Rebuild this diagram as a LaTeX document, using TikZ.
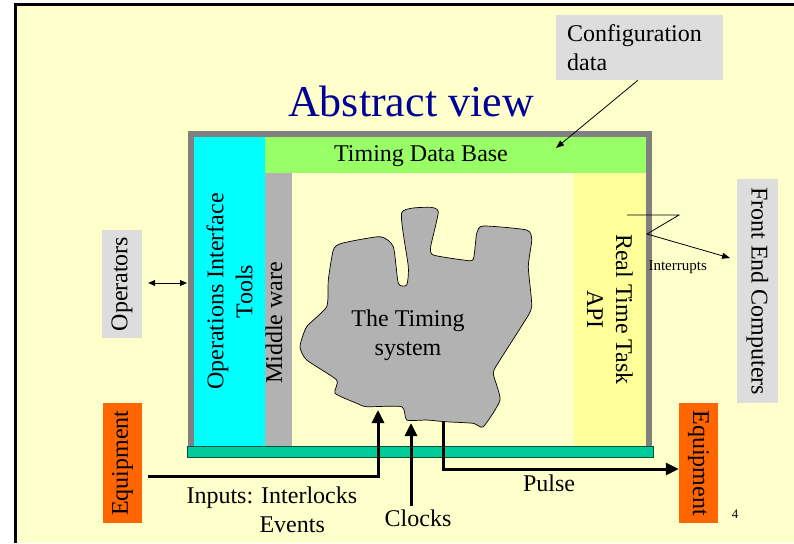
\documentclass[tikz,border=0pt]{standalone}
\usepackage{fontspec}
\setmainfont{Liberation Serif}
\usepackage{xcolor}
\usepackage{tikz}
\usetikzlibrary{arrows.meta,calc}

\definecolor{pagebg}{HTML}{FFFFCC}
\definecolor{boxgray}{HTML}{DDDDDD}
\definecolor{titleblue}{HTML}{000099}
\definecolor{framegray}{HTML}{808080}
\definecolor{opscyan}{HTML}{00FFFF}
\definecolor{tdbgreen}{HTML}{99FF66}
\definecolor{mwgray}{HTML}{B2B2B2}
\definecolor{rtyellow}{HTML}{FFFF99}
\definecolor{busgreen}{HTML}{00CC99}
\definecolor{busedge}{HTML}{005040}
\definecolor{equiporange}{HTML}{FF6600}

\begin{document}
\begin{tikzpicture}[x=1pt,y=-1pt,
    txt/.style={font=\fontsize{24}{29}\selectfont},
    graybox/.style={fill=boxgray, inner sep=0pt, txt},
    orangebox/.style={fill=equiporange, inner sep=0pt, txt, minimum width=120pt, minimum height=39pt},
    thickarrow/.style={line width=3pt, -{Triangle[length=13pt,width=12pt]}},
    thinarrow/.style={line width=0.8pt, -{Triangle[length=8pt,width=6pt]}}]

    \useasboundingbox (0,0) rectangle (794,543);
    \fill[pagebg] (15,5) rectangle (794,543);
    \draw[line width=3pt] (15,543) -- (15,5) -- (794,5);

    % title and configuration data
    \node[font=\fontsize{44}{50}\selectfont, text=titleblue] (title) at (411,101) {Abstract view};
    \node[graybox, text width=145pt, inner xsep=11pt, minimum height=65pt, align=left, anchor=north west] (config) at (556,15) {Configuration\\data};

    % frame of the timing system
    \fill[framegray] (188,131) rectangle (652,446);
    \fill[pagebg] (194,137) rectangle (646,446);
    \node[fill=opscyan, minimum width=309pt, minimum height=71pt, inner sep=0pt, rotate=90, txt, align=center] (ops) at (229.5,291.5) {Operations Interface\\Tools};
    \node[fill=tdbgreen, minimum width=381pt, minimum height=36pt, inner sep=0pt] (tdb) at (455.5,155) {};
    \node[txt] (tdbtext) at (421,156) {Timing Data Base};
    \node[fill=mwgray, minimum width=273pt, minimum height=27pt, inner sep=0pt, rotate=90] (mw) at (278.5,309.5) {};
    \node[txt, rotate=90] (mwtext) at (274,323) {Middle ware};
    \node[fill=rtyellow, minimum width=273pt, minimum height=72pt, inner sep=0pt, rotate=-90, txt, align=center] (rt) at (610,309.5) {Real Time Task\\API};
    \node[fill=busgreen, draw=busedge, line width=1pt, minimum width=466pt, minimum height=11pt, inner sep=0pt] (bus) at (420,451.5) {};

    % the timing system itself
    \draw[fill=mwgray, line width=0.7pt] plot[smooth cycle, tension=0.35] coordinates {
        (401.7,212.7) (428.3,207.3) (438.3,211.7) (430.7,246.7) (433.3,255)
        (463.3,260) (473.3,259.3) (476.7,233.3) (483.3,226) (526.7,230)
        (531.7,240) (528.3,266.7) (531.7,306.7) (523.3,323.3) (500,360)
        (493.3,373.3) (500,400) (483.3,426.7) (473.3,423.3) (445,421.7)
        (426.7,420) (406.7,420) (401.7,406.7) (366.7,406.7) (356.7,403.3)
        (335,393.3) (336.7,380) (306.7,360) (300,346.7) (306.7,326.7)
        (326.7,306.7) (328.3,280) (333.3,250) (341.7,243.3) (380,236.7)
        (393.3,246.7) (398.3,283.3) (406.7,285) (408.3,266.7)};
    \node[txt, align=center] (timing) at (408,335) {The Timing\\system};

    % outside boxes
    \node[graybox, minimum width=108pt, minimum height=40pt, rotate=90] (operators) at (122,284) {Operators};
    \node[orangebox, rotate=90] (equipin) at (122.5,463) {Equipment};
    \node[orangebox, rotate=-90] (equipout) at (698.5,463) {Equipment};
    \node[graybox, minimum width=224pt, minimum height=41pt, rotate=-90] (fec) at (757.5,291) {Front End Computers};

    % connectors
    \coordinate (opsin) at (187,283);
    \draw[line width=0.8pt, {Triangle[length=7pt,width=6pt]}-{Triangle[length=7pt,width=6pt]}] ($(operators.south)+(6,-1)$) -- (opsin);

    \coordinate (tdbin) at (556,148);
    \draw[thinarrow] ($(config.south)+(-2,0)$) -- (tdbin);

    \coordinate (irqsrc) at (627,215);
    \coordinate (irqend) at (730,258);
    \draw[thinarrow] (irqsrc) -- ++(52,0) -- ++(-32,19) -- (irqend);
    \node[font=\fontsize{15}{18}\selectfont, anchor=west] (irq) at (645,267) {Interrupts};

    \coordinate (inturn) at (378,476);
    \coordinate (intip) at (378,410);
    \draw[thickarrow] ($(equipin.south |- inturn)+(6,0)$) -- (inturn) -- (intip);

    \node[txt] (clocks) at (418,518) {Clocks};
    \coordinate (clocktip) at (411,423);
    \draw[thickarrow] (clocks.north -| clocktip) -- (clocktip);

    \coordinate (pulsesrc) at (443,421);
    \coordinate (pulseturn) at (443,469);
    \draw[thickarrow] (pulsesrc) -- (pulseturn) -- (pulseturn -| equipout.south);

    % labels
    \node[txt, align=left, anchor=west] (inputs) at (183,510) {Inputs: Interlocks\\\hspace*{73pt}Events};
    \node[txt] (pulse) at (549,483) {Pulse};
    \node[font=\fontsize{13}{15}\selectfont] (pagenum) at (735,514) {4};
\end{tikzpicture}
\end{document}
